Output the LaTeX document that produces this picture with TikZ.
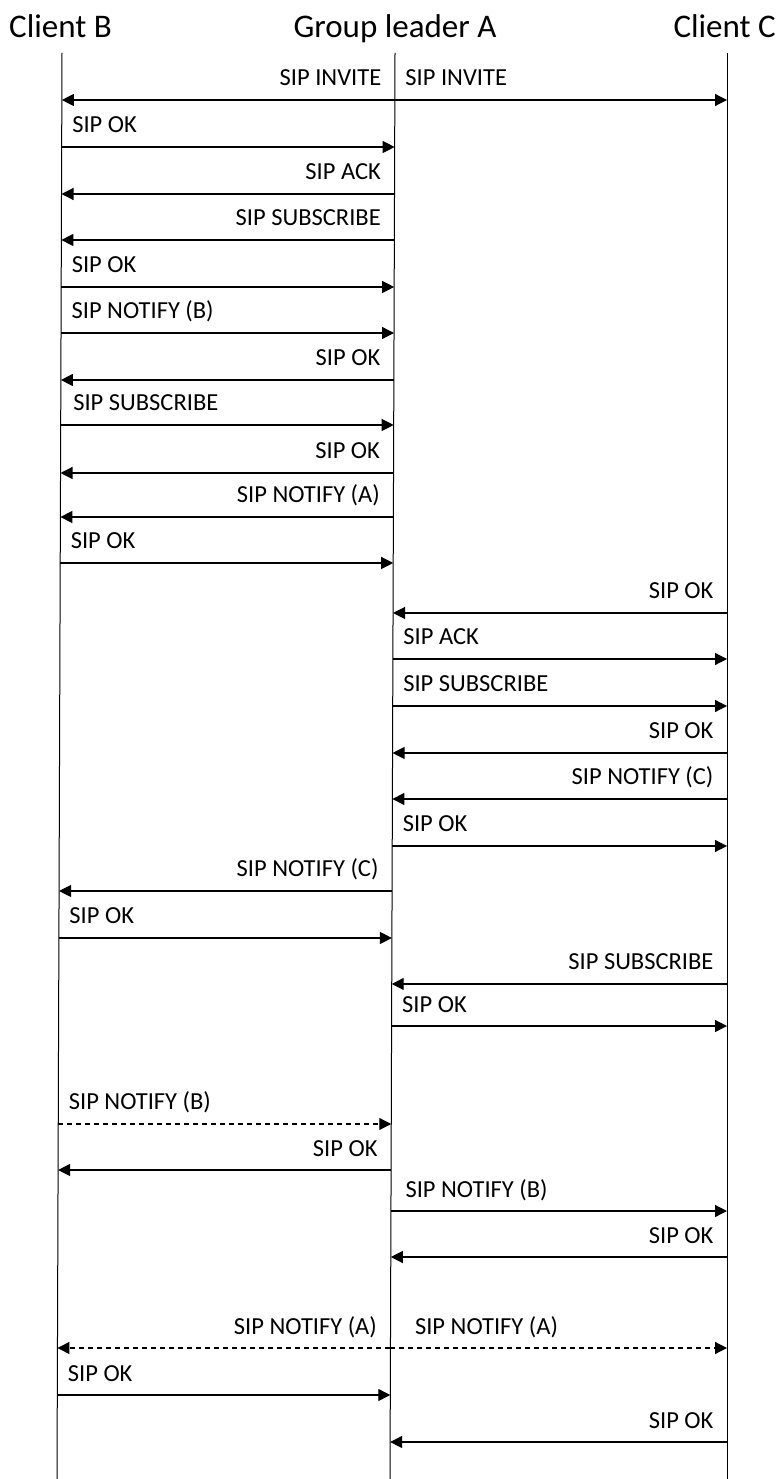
\documentclass[tikz,border=0pt]{standalone}
\usepackage{fontspec}
\setmainfont{Carlito}
\usetikzlibrary{calc,arrows.meta}

\begin{document}
\begin{tikzpicture}[x=1pt, y=-1pt,
    lifeline/.style={line width=1pt},
    msg/.style={line width=1.2pt, -{Triangle[length=12pt,width=12pt]}},
    lbl/.style={inner sep=0pt, font=\fontsize{24.5}{27}\selectfont},
    head/.style={inner sep=0pt, font=\fontsize{33}{36}\selectfont}]
    \useasboundingbox (0,0) rectangle (777,1479);
    % headers
    \node[head, anchor=base west] (hB) at (9,38)   {Client B};
    \node[head, anchor=base]      (hA) at (395,38) {Group leader A};
    \node[head, anchor=base east] (hC) at (776,38) {Client C};
    % lifelines (slightly slanted, as in the sketch)
    \coordinate (Bt) at (62,53);  \coordinate (Bb) at (57,1479);
    \coordinate (At) at (395,53); \coordinate (Ab) at (390,1479);
    \coordinate (Ct) at (727,53); \coordinate (Cb) at (727,1479);
    \draw[lifeline] (Bt) -- (Bb);
    \draw[lifeline] (At) -- (Ab);
    \draw[lifeline] (Ct) -- (Cb);
    % one point per message on each lifeline
    \foreach \i/\y in {1/100, 2/147, 3/194, 4/240, 5/287, 6/333, 7/380,
                       8/425, 9/473, 10/517, 11/563, 12/613, 13/659, 14/706,
                       15/753, 16/799, 17/846, 18/891, 19/938, 20/984,
                       21/1026, 22/1124, 23/1170, 24/1211, 25/1257,
                       26/1348, 27/1395, 28/1442} {
      \coordinate (b\i) at ($(Bt)!{(\y-53)/1426}!(Bb)$);
      \coordinate (a\i) at ($(At)!{(\y-53)/1426}!(Ab)$);
      \coordinate (c\i) at ($(Ct)!{(\y-53)/1426}!(Cb)$);
    }
    \tikzset{toR/.style={lbl, at start, anchor=base west, xshift=10pt, yshift=14pt},
             toL/.style={lbl, at start, anchor=base east, xshift=-13pt, yshift=14pt}}
    % B joins the group
    \draw[msg] (a1) -- node[toL] (m1l) {SIP INVITE} (b1);
    \draw[msg] (a1) -- node[toR] (m1r) {SIP INVITE} (c1);
    \draw[msg] (b2) -- node[toR] (m2) {SIP OK} (a2);
    \draw[msg] (a3) -- node[toL] (m3) {SIP ACK} (b3);
    \draw[msg] (a4) -- node[toL] (m4) {SIP SUBSCRIBE} (b4);
    \draw[msg] (b5) -- node[toR] (m5) {SIP OK} (a5);
    \draw[msg] (b6) -- node[toR] (m6) {SIP NOTIFY (B)} (a6);
    \draw[msg] (a7) -- node[toL] (m7) {SIP OK} (b7);
    \draw[msg] (b8) -- node[toR, xshift=2pt] (m8) {SIP SUBSCRIBE} (a8);
    \draw[msg] (a9) -- node[toL] (m9) {SIP OK} (b9);
    \draw[msg] (a10) -- node[toL] (m10) {SIP NOTIFY (A)} (b10);
    \draw[msg] (b11) -- node[toR] (m11) {SIP OK} (a11);
    % C joins the group
    \draw[msg] (c12) -- node[toL] (m12) {SIP OK} (a12);
    \draw[msg] (a13) -- node[toR] (m13) {SIP ACK} (c13);
    \draw[msg] (a14) -- node[toR] (m14) {SIP SUBSCRIBE} (c14);
    \draw[msg] (c15) -- node[toL] (m15) {SIP OK} (a15);
    \draw[msg] (c16) -- node[toL] (m16) {SIP NOTIFY (C)} (a16);
    \draw[msg] (a17) -- node[toR] (m17) {SIP OK} (c17);
    \draw[msg] (a18) -- node[toL] (m18) {SIP NOTIFY (C)} (b18);
    \draw[msg] (b19) -- node[toR] (m19) {SIP OK} (a19);
    \draw[msg] (c20) -- node[toL] (m20) {SIP SUBSCRIBE} (a20);
    \draw[msg] (a21) -- node[toR] (m21) {SIP OK} (c21);
    % state changes
    \draw[msg, dash pattern=on 5pt off 4pt] (b22) -- node[toR] (m22) {SIP NOTIFY (B)} (a22);
    \draw[msg] (a23) -- node[toL] (m23) {SIP OK} (b23);
    \draw[msg] (a24) -- node[toR, xshift=4pt] (m24) {SIP NOTIFY (B)} (c24);
    \draw[msg] (c25) -- node[toL] (m25) {SIP OK} (a25);
    \draw[msg, dash pattern=on 5pt off 4pt] (a26) -- node[toL] (m26l) {SIP NOTIFY (A)} (b26);
    \draw[msg, dash pattern=on 5pt off 4pt] (a26) -- node[toR, xshift=14pt] (m26r) {SIP NOTIFY (A)} (c26);
    \draw[msg] (b27) -- node[toR] (m27) {SIP OK} (a27);
    \draw[msg] (c28) -- node[toL] (m28) {SIP OK} (a28);
  \end{tikzpicture}
\end{document}
